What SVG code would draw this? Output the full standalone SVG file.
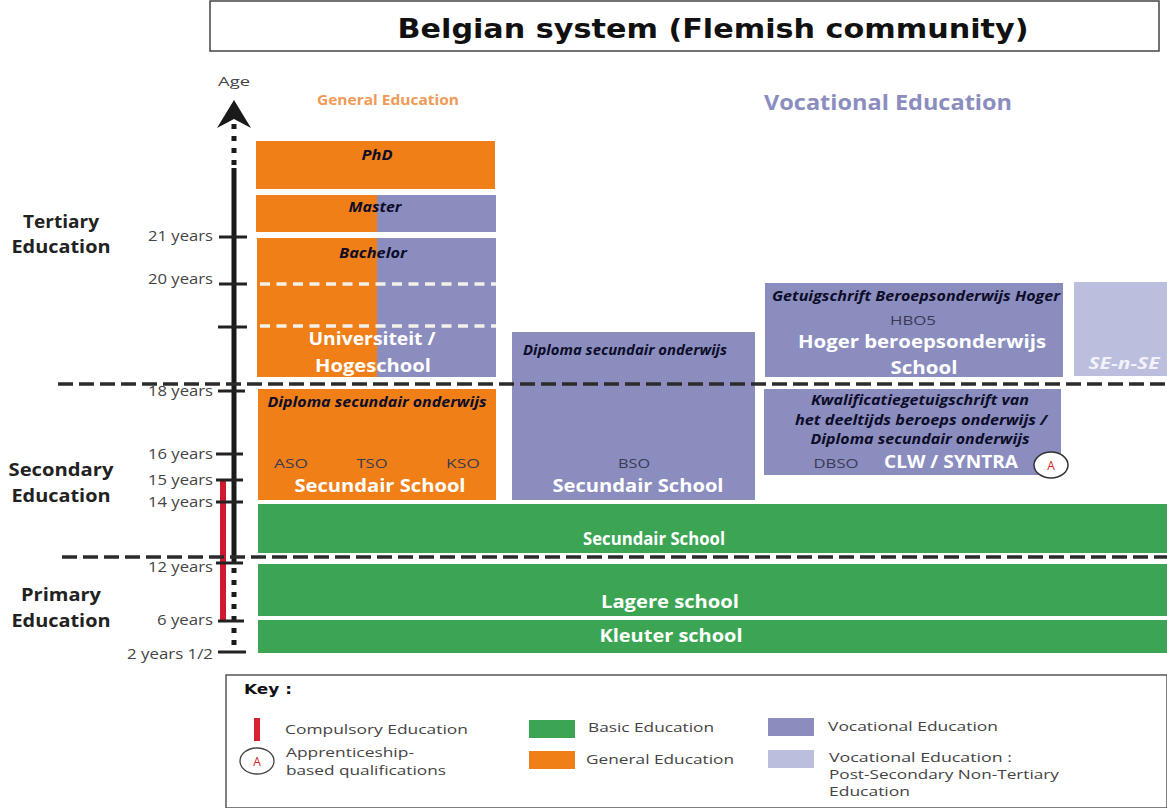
<svg xmlns="http://www.w3.org/2000/svg" width="1167" height="808" viewBox="0 0 1167 808">
<style>
text{font-family:"Open Sans","DejaVu Sans",sans-serif;text-anchor:middle;lengthAdjust:spacingAndGlyphs}
.o{fill:#f07f17}.v{fill:#8b8dbf}.g{fill:#3ba553}.l{fill:#bcbedd}
.age{font-size:14px;fill:#444;text-anchor:end}
.hd{font-size:18.5px;font-weight:700;fill:#222}
.cert{font-size:13.5px;font-weight:700;font-style:italic;fill:#0d0d2a}
.w{font-size:18px;font-weight:700;fill:#fff}
.sm{font-size:13.5px;fill:#3a3a55}
.key{font-size:13.5px;fill:#444;text-anchor:start}
.tick{stroke:#222;stroke-width:3}
.dash{stroke:#2b2b2b;stroke-width:3.5;stroke-dasharray:15 6;fill:none}
.wd{stroke:#f4f1ea;stroke-width:3.5;stroke-dasharray:10 6.5;fill:none}
</style>
<rect width="1167" height="808" fill="#fff"/>
<g id="title"><rect x="210" y="1" width="949" height="50" fill="#fff" stroke="#444" stroke-width="1.5"/>
<text x="713" y="38" textLength="631" lengthAdjust="spacingAndGlyphs" style="font-family:'DejaVu Sans',sans-serif;font-size:26px;font-weight:700" fill="#111">Belgian system (Flemish community)</text></g>
<g id="headers">
<text x="388" y="105" textLength="142" lengthAdjust="spacingAndGlyphs" style="font-size:14px;font-weight:700" fill="#ef9a55">General Education</text>
<text x="888" y="110" textLength="248" lengthAdjust="spacingAndGlyphs" style="font-size:22px;font-weight:700" fill="#8b8dbf">Vocational Education</text>
<text x="234" y="86" textLength="32" lengthAdjust="spacingAndGlyphs" style="font-size:13.5px" fill="#444">Age</text>
<text x="61" y="228" textLength="76" lengthAdjust="spacingAndGlyphs" class="hd">Tertiary</text><text x="61" y="253" textLength="99" lengthAdjust="spacingAndGlyphs" class="hd">Education</text>
<text x="61" y="476" textLength="105" lengthAdjust="spacingAndGlyphs" class="hd">Secondary</text><text x="61" y="502" textLength="99" lengthAdjust="spacingAndGlyphs" class="hd">Education</text>
<text x="61" y="601" textLength="80" lengthAdjust="spacingAndGlyphs" class="hd">Primary</text><text x="61" y="627" textLength="99" lengthAdjust="spacingAndGlyphs" class="hd">Education</text>
</g>
<g id="node-phd"><rect class="o" x="256" y="141" width="239" height="48"/><text x="377" y="160" textLength="31" lengthAdjust="spacingAndGlyphs" class="cert">PhD</text></g>
<g id="node-master"><rect class="o" x="256" y="195" width="121" height="37"/><rect class="v" x="377" y="195" width="119" height="37"/><text x="375" y="212" textLength="53" lengthAdjust="spacingAndGlyphs" class="cert">Master</text></g>
<g id="node-bachelor"><rect class="o" x="257" y="238" width="120" height="139"/><rect class="v" x="377" y="238" width="119" height="139"/>
<text x="373" y="258" textLength="68" lengthAdjust="spacingAndGlyphs" class="cert">Bachelor</text>
<path class="wd" d="M260 284H496M260 326H496"/>
<text x="372" y="345" textLength="127" lengthAdjust="spacingAndGlyphs" class="w">Universiteit /</text><text x="373" y="372" textLength="116" lengthAdjust="spacingAndGlyphs" class="w">Hogeschool</text></g>
<g id="node-diploma-vocational"><rect class="v" x="512" y="332" width="243" height="168"/>
<text x="625" y="355" textLength="204" lengthAdjust="spacingAndGlyphs" class="cert">Diploma secundair onderwijs</text>
<text x="634" y="468" textLength="32" lengthAdjust="spacingAndGlyphs" class="sm">BSO</text><text x="638" y="492" textLength="171" lengthAdjust="spacingAndGlyphs" class="w">Secundair School</text></g>
<g id="node-hoger"><rect class="v" x="765" y="283" width="298" height="94"/>
<text x="916" y="301" textLength="288" lengthAdjust="spacingAndGlyphs" class="cert">Getuigschrift Beroepsonderwijs Hoger</text>
<text x="913" y="325" textLength="46" lengthAdjust="spacingAndGlyphs" class="sm">HBO5</text><text x="922" y="348" textLength="248" lengthAdjust="spacingAndGlyphs" class="w">Hoger beroepsonderwijs</text><text x="924" y="374" textLength="67" lengthAdjust="spacingAndGlyphs" class="w">School</text></g>
<g id="node-sense"><rect class="l" x="1074" y="282" width="93" height="94"/><text x="1124" y="369" textLength="71" lengthAdjust="spacingAndGlyphs" style="font-size:16px;font-weight:700;font-style:italic" fill="#f2f2fa">SE-n-SE</text></g>
<g id="node-general-secondary"><rect class="o" x="258" y="389" width="238" height="111"/>
<text x="377" y="407" textLength="219" lengthAdjust="spacingAndGlyphs" class="cert">Diploma secundair onderwijs</text>
<text x="291" y="468" textLength="34" lengthAdjust="spacingAndGlyphs" class="sm">ASO</text><text x="372" y="468" textLength="31" lengthAdjust="spacingAndGlyphs" class="sm">TSO</text><text x="463" y="468" textLength="34" lengthAdjust="spacingAndGlyphs" class="sm">KSO</text>
<text x="380" y="492" textLength="171" lengthAdjust="spacingAndGlyphs" class="w">Secundair School</text></g>
<g id="node-clw"><rect class="v" x="764" y="389" width="297" height="86"/>
<text x="920" y="405" textLength="218" lengthAdjust="spacingAndGlyphs" class="cert">Kwalificatiegetuigschrift van</text>
<text x="921" y="425" textLength="252" lengthAdjust="spacingAndGlyphs" class="cert">het deeltijds  beroeps  onderwijs /</text>
<text x="920" y="444" textLength="219" lengthAdjust="spacingAndGlyphs" class="cert">Diploma secundair onderwijs</text>
<text x="836" y="468" textLength="45" lengthAdjust="spacingAndGlyphs" class="sm">DBSO</text><text x="951" y="468" textLength="134" lengthAdjust="spacingAndGlyphs" style="font-size:17px;font-weight:700" fill="#fff">CLW / SYNTRA</text>
<ellipse cx="1051" cy="465" rx="17" ry="13" fill="#fff" stroke="#333" stroke-width="1.5"/><text x="1051" y="470" style="font-size:12px" fill="#c22">A</text></g>
<g id="node-basic"><rect class="g" x="258" y="504" width="909" height="49"/><text x="654" y="545" textLength="142" lengthAdjust="spacingAndGlyphs" class="w">Secundair School</text>
<rect class="g" x="258" y="564" width="909" height="52"/><text x="670" y="608" textLength="138" lengthAdjust="spacingAndGlyphs" class="w">Lagere school</text>
<rect class="g" x="258" y="620" width="909" height="33"/><text x="671" y="642" textLength="143" lengthAdjust="spacingAndGlyphs" class="w">Kleuter school</text></g>
<g id="connectors">
<path d="M234 168V564" stroke="#1a1a1a" stroke-width="5" fill="none"/>
<path d="M234 112V168M234 568V648" stroke="#1a1a1a" stroke-width="5" stroke-dasharray="5 7" fill="none"/>
<path d="M234 100L251 128L234 119L217 128Z" fill="#1a1a1a"/>
<path d="M223 480V621" stroke="#d0182f" stroke-width="6" fill="none"/>
<path class="tick" d="M219 237H247M219 284H247M218 327H247M218 391H245M216 454H243M216 480H243M216 502H243M216 563H243M218 621H244M218 652H246"/>
<path class="dash" d="M58 384H1167M62 557H1167"/>
</g>
<g id="age-labels">
<text class="age" x="213" y="241" textLength="65" lengthAdjust="spacingAndGlyphs">21 years</text><text class="age" x="213" y="284" textLength="65" lengthAdjust="spacingAndGlyphs">20 years</text>
<text class="age" x="213" y="396" textLength="65" lengthAdjust="spacingAndGlyphs">18 years</text><text class="age" x="213" y="459" textLength="65" lengthAdjust="spacingAndGlyphs">16 years</text>
<text class="age" x="213" y="485" textLength="65" lengthAdjust="spacingAndGlyphs">15 years</text><text class="age" x="213" y="507" textLength="65" lengthAdjust="spacingAndGlyphs">14 years</text>
<text class="age" x="213" y="572" textLength="65" lengthAdjust="spacingAndGlyphs">12 years</text><text class="age" x="213" y="625" textLength="56" lengthAdjust="spacingAndGlyphs">6 years</text>
<text class="age" x="213" y="659" textLength="86" lengthAdjust="spacingAndGlyphs">2 years 1/2</text></g>
<g id="legend"><rect x="226" y="675" width="941" height="133" fill="#fff" stroke="#555" stroke-width="1.5"/>
<text x="244" y="694" textLength="48" lengthAdjust="spacingAndGlyphs" style="font-size:14px;font-weight:700;text-anchor:start;font-family:'DejaVu Sans',sans-serif" fill="#111">Key :</text>
<rect x="254" y="718" width="6" height="23" fill="#d8222f"/>
<text class="key" x="285" y="734" textLength="183" lengthAdjust="spacingAndGlyphs">Compulsory Education</text>
<ellipse cx="257" cy="761" rx="17" ry="13" fill="#fff" stroke="#444" stroke-width="1.3"/><text x="257" y="766" style="font-size:12px" fill="#c22">A</text>
<text class="key" x="286" y="757" textLength="128" lengthAdjust="spacingAndGlyphs">Apprenticeship-</text><text class="key" x="286" y="775" textLength="160" lengthAdjust="spacingAndGlyphs">based qualifications</text>
<rect class="g" x="529" y="720" width="46" height="18"/><text class="key" x="588" y="732" textLength="126" lengthAdjust="spacingAndGlyphs">Basic Education</text>
<rect class="o" x="529" y="751" width="46" height="18"/><text class="key" x="586" y="764" textLength="148" lengthAdjust="spacingAndGlyphs">General Education</text>
<rect class="v" x="768" y="718" width="46" height="18"/><text class="key" x="828" y="731" textLength="170" lengthAdjust="spacingAndGlyphs">Vocational Education</text>
<rect class="l" x="768" y="750" width="46" height="18"/>
<text class="key" x="829" y="762" textLength="183" lengthAdjust="spacingAndGlyphs">Vocational Education :</text><text class="key" x="829" y="779" textLength="230" lengthAdjust="spacingAndGlyphs">Post-Secondary Non-Tertiary</text><text class="key" x="829" y="796" textLength="81" lengthAdjust="spacingAndGlyphs">Education</text></g>
</svg>
